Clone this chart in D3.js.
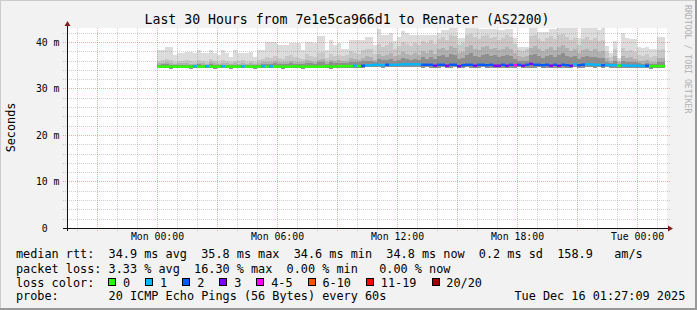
<!DOCTYPE html>
<html>
<head>
<meta charset="utf-8">
<script src="https://cdn.jsdelivr.net/npm/d3@7"></script>
<style>
  body { margin: 0; background: #f2f2f2; }
  svg { display: block; font-family: 'DejaVu Sans Mono', monospace; }
  text { white-space: pre; }
</style>
</head>
<body>
<div id="chart"></div>
<script>

// 12 minute consolidated steps, first one at Mon 00:00
const FIRST_STEP = new Date(2025, 11, 15, 0, 0);
const STEP_MINUTES = 12;

// median rtt per step (ms)
const median = [
  34.7,34.7,34.7,34.7,34.7,34.7,34.7,34.7,34.7,34.8,
  34.7,34.7,34.8,34.7,34.7,34.7,34.8,34.7,34.7,34.7,
  34.7,34.8,34.7,34.7,34.7,34.7,34.8,34.7,34.8,34.7,
  34.7,34.7,34.7,34.7,34.8,34.7,34.7,34.7,34.7,34.7,
  34.7,34.7,34.8,34.7,34.7,34.8,34.8,34.8,34.8,34.9,
  34.8,34.9,35.0,35.0,35.1,35.1,35.0,35.1,35.1,35.1,
  35.1,35.2,35.2,35.2,35.2,35.2,35.1,35.1,35.1,34.9,
  35.1,35.1,34.9,35.1,35.1,34.8,35.0,35.1,35.1,34.9,
  35.1,35.1,35.0,35.1,34.9,34.9,35.1,34.9,35.1,35.0,
  35.1,34.9,35.1,35.3,35.1,35.1,35.0,35.1,34.9,35.1,
  34.9,35.1,35.0,34.9,35.2,35.0,35.1,35.2,35.2,35.1,
  35.1,35.0,35.1,35.0,35.0,34.9,35.0,34.9,34.9,34.9,
  34.9,34.8,34.9,34.8,34.8,34.8,34.8
];

// lost pings out of 20 per step
const loss = [
  0,0,0,0,0,0,0,0,0,1,
  0,0,1,0,0,0,1,0,0,0,
  0,1,0,0,0,0,1,0,1,0,
  0,0,0,0,0,0,0,0,0,0,
  0,0,0,0,0,0,0,0,0,1,
  0,2,1,1,1,1,1,2,1,1,
  1,1,1,1,1,1,2,2,2,3,
  2,2,3,2,2,3,2,2,2,3,
  2,2,2,2,3,3,2,3,2,4,
  2,3,2,3,2,2,2,2,3,2,
  3,2,2,3,1,2,2,1,1,1,
  1,2,1,1,1,0,1,1,1,1,
  1,1,2,0,0,0,0
];

// smoke: fastest ping and a few upper percentiles per step (ms)
const pingMin = [
  34.4,34.4,34.4,34.3,34.4,34.4,34.4,34.4,34.3,34.4,
  34.4,34.4,34.4,34.4,34.3,34.4,34.4,34.4,34.3,34.4,
  34.4,34.4,34.4,34.4,34.3,34.4,34.4,34.4,34.4,34.4,
  34.4,34.3,34.4,34.4,34.4,34.4,34.3,34.4,34.4,34.4,
  34.4,34.4,34.4,34.3,34.4,34.4,34.4,34.5,34.5,34.5,
  34.4,34.5,34.6,34.6,34.6,34.6,34.5,34.6,34.6,34.6,
  34.6,34.6,34.6,34.6,34.6,34.6,34.5,34.6,34.5,34.4,
  34.5,34.6,34.4,34.5,34.6,34.4,34.5,34.6,34.5,34.4,
  34.5,34.6,34.5,34.5,34.4,34.4,34.5,34.4,34.5,34.5,
  34.6,34.4,34.5,34.4,34.5,34.6,34.5,34.5,34.4,34.5,
  34.4,34.5,34.5,34.4,34.6,34.5,34.5,34.6,34.6,34.5,
  34.6,34.5,34.6,34.5,34.5,34.4,34.5,34.4,34.4,34.4,
  34.4,34.4,34.4,34.3,34.4,34.4,34.4
];

const pingP60 = [
  35.1,35.2,35.2,35.1,35.0,35.1,35.1,35.1,35.0,35.0,
  35.2,35.1,35.0,35.2,35.1,35.0,35.1,35.1,35.0,35.1,
  35.0,35.1,35.0,35.1,35.0,35.1,35.2,35.3,35.3,35.4,
  35.3,35.2,35.3,35.5,35.3,35.3,35.2,35.5,35.4,35.3,
  35.6,35.6,35.3,35.6,35.5,35.5,35.4,35.5,35.8,35.7,
  35.6,35.9,36.0,36.0,35.7,36.3,36.1,36.2,36.4,36.0,
  36.2,36.5,36.3,36.2,36.4,36.2,36.7,36.4,36.8,36.3,
  36.9,37.2,36.8,37.5,37.2,36.4,36.6,37.3,37.6,37.0,
  36.8,37.2,37.5,36.9,37.1,36.8,36.9,37.3,37.0,36.4,
  35.9,35.9,36.0,37.1,37.4,36.9,36.6,36.9,37.2,36.8,
  37.3,37.6,37.0,36.7,36.9,36.3,36.8,37.0,36.7,36.8,
  36.5,36.6,35.8,35.5,35.9,35.3,36.0,35.8,35.8,35.6,
  35.4,35.3,35.5,35.2,35.3,35.6,35.7
];

const pingP75 = [
  35.4,35.5,35.6,35.4,35.3,35.4,35.4,35.5,35.3,35.3,
  35.5,35.4,35.3,35.6,35.4,35.3,35.5,35.4,35.2,35.4,
  35.3,35.5,35.3,35.4,35.2,35.5,35.6,35.8,35.7,35.9,
  35.7,35.6,35.8,36.0,35.8,35.7,35.6,36.1,35.9,35.8,
  36.2,36.3,35.8,36.2,36.0,36.1,35.9,36.0,36.5,36.3,
  36.2,36.6,36.9,36.8,36.2,37.4,37.0,37.3,37.6,36.9,
  37.2,37.8,37.4,37.2,37.6,37.3,38.0,37.6,38.2,37.5,
  38.4,38.8,38.2,39.2,38.8,37.6,37.9,39.0,39.4,38.6,
  38.3,38.9,39.2,38.5,38.7,38.2,38.5,39.0,38.6,37.6,
  36.9,36.8,37.0,38.8,39.2,38.4,38.0,38.5,38.9,38.3,
  39.0,39.4,38.7,38.1,38.5,37.6,38.3,38.6,38.1,38.4,
  37.9,38.0,36.6,36.0,36.9,35.6,37.0,36.6,36.7,36.4,
  36.0,35.9,36.1,35.7,35.8,36.5,36.6
];

const pingP90 = [
  36.0,36.2,36.4,36.1,35.8,35.9,36.0,36.2,35.9,35.8,
  36.1,35.9,35.8,36.3,36.0,35.8,36.2,35.9,35.7,36.0,
  35.9,36.1,35.8,36.0,35.7,36.2,36.3,36.8,36.5,37.0,
  36.6,36.4,36.9,37.2,36.7,36.5,36.3,37.4,37.0,36.8,
  37.6,37.8,36.6,37.5,37.0,37.2,36.9,37.1,38.0,37.6,
  37.4,38.2,38.6,38.4,37.5,39.6,39.0,39.4,39.8,38.6,
  39.2,40.0,39.6,39.2,39.8,39.4,40.2,39.8,40.4,39.6,
  40.6,41.0,40.4,41.6,41.2,39.4,39.8,41.4,41.8,41.0,
  40.6,41.2,41.6,40.8,41.0,40.4,40.8,41.4,41.0,39.6,
  38.2,38.0,38.4,41.2,41.6,40.6,40.2,40.8,41.2,40.6,
  41.4,41.8,41.0,40.4,40.8,39.4,40.6,41.0,40.4,40.8,
  40.2,40.4,37.8,36.8,38.4,36.0,38.8,38.0,38.2,37.8,
  37.2,37.0,37.4,36.8,36.9,38.2,38.4
];

const pingMax = [
  38.3,38.3,39.0,39.0,37.2,37.6,37.6,37.9,37.9,37.6,
  38.3,37.6,37.6,38.3,37.7,37.2,38.3,37.6,36.8,38.3,
  37.6,37.6,37.6,37.9,36.8,38.3,38.3,39.9,39.9,39.9,
  39.4,39.4,39.4,39.7,39.7,39.7,38.3,40.1,40.1,39.7,
  41.3,41.3,38.3,40.4,39.4,39.7,38.6,38.6,40.4,40.4,
  40.4,40.4,41.1,41.1,39.4,42.7,41.5,41.5,41.9,40.2,
  41.1,42.3,41.9,41.5,41.5,41.5,41.5,41.5,41.5,41.5,
  42.0,42.5,42.5,43.5,43.5,40.8,40.8,43.5,43.5,43.5,
  42.9,42.9,42.9,42.9,42.9,42.5,42.5,42.9,42.9,40.8,
  39.0,39.0,39.0,43.5,43.5,42.2,42.2,42.2,42.9,42.9,
  43.5,43.5,43.5,43.5,43.5,40.8,43.5,43.5,43.5,43.5,
  42.5,43.5,39.1,37.7,40.2,36.6,42.0,40.8,40.7,40.7,
  39.0,38.8,39.0,38.4,38.4,41.1,41.1
];

// loss legend
const lossLabels = ['0', '1', '2', '3', '4-5', '6-10', '11-19', '20/20'];
const lossColors = ['#26ff00', '#00b8ff', '#0059ff', '#7e00ff', '#ff00ff', '#ff5500', '#ff0000', '#a10000'];
const lossLimits = [0, 1, 2, 3, 5, 10, 19, 20];

const yTicks = [0, 10, 20, 30, 40];
const xTicks = [
  new Date(2025, 11, 15, 0), new Date(2025, 11, 15, 6), new Date(2025, 11, 15, 12),
  new Date(2025, 11, 15, 18), new Date(2025, 11, 16, 0)
];

const titleText = 'Last 30 Hours from 7e1e5ca966d1 to Renater (AS2200)';
const legendRows = [
  'median rtt:  34.9 ms avg  35.8 ms max  34.6 ms min  34.8 ms now  0.2 ms sd  158.9   am/s',
  'packet loss: 3.33 % avg  16.30 % max  0.00 % min   0.00 % now',
  'loss color:',
  'probe:       20 ICMP Echo Pings (56 Bytes) every 60s'
];
const stampText = 'Tue Dec 16 01:27:09 2025';

const W = 697, H = 310;
const plot = { left: 67, right: 667, top: 28, bottom: 228 };

const x = d3.scaleTime()
  .domain([new Date(2025, 11, 14, 19, 30), new Date(2025, 11, 16, 1, 30)])
  .range([plot.left, plot.right]);

const y = d3.scaleLinear()
  .domain([0, 43.01])
  .range([plot.bottom, plot.top]);

const stepStart = (i) => d3.timeMinute.offset(FIRST_STEP, i * STEP_MINUTES);
const crisp = (v) => Math.round(v) + 0.5;

const svg = d3.select('#chart').append('svg')
  .attr('width', W)
  .attr('height', H);

// background and rrdtool style shading
svg.append('rect').attr('width', W).attr('height', H).attr('fill', '#f2f2f2');
svg.append('path').attr('d', `M0.5,${H} V0.5 H${W}`).attr('fill', 'none').attr('stroke', '#cbcbcb');
svg.append('path').attr('d', `M0,${H - 1} H${W - 1} V0`).attr('fill', 'none').attr('stroke', '#999999').attr('stroke-width', 2);

svg.append('rect')
  .attr('x', plot.left).attr('y', plot.top)
  .attr('width', plot.right - plot.left).attr('height', plot.bottom - plot.top)
  .attr('fill', '#ffffff');

svg.append('clipPath').attr('id', 'canvas-clip')
  .append('rect')
    .attr('x', plot.left).attr('y', plot.top)
    .attr('width', plot.right - plot.left).attr('height', plot.bottom - plot.top);

// smoke, lightest (widest) band first
const smoke = [
  { values: pingMax, color: '#dcdcdc' },
  { values: pingP90, color: '#c8c8c8' },
  { values: pingP75, color: '#b0b0b0' },
  { values: pingP60, color: '#8e8e8e' },
];

const smokeGroup = svg.append('g').attr('clip-path', 'url(#canvas-clip)');

for (let layer of smoke) {
  smokeGroup.append('g')
    .selectAll('rect')
    .data(layer.values)
    .join('rect')
      .attr('x', (d, i) => x(stepStart(i)))
      .attr('width', (d, i) => x(stepStart(i + 1)) - x(stepStart(i)))
      .attr('y', d => y(d))
      .attr('height', (d, i) => y(pingMin[i]) - y(d))
      .attr('fill', layer.color)
      .attr('shape-rendering', 'crispEdges');
}

// grid on top of the smoke
const grid = svg.append('g').attr('fill', 'none');
const minorColor = 'rgba(128,128,128,0.38)';
const majorColor = 'rgba(240,90,90,0.5)';

const yMinor = d3.range(2, 43, 2).filter(v => v % 10 !== 0);
grid.selectAll('.hminor')
  .data(yMinor)
  .join('line')
    .attr('x1', plot.left - 4).attr('x2', plot.right + 3)
    .attr('y1', d => crisp(y(d))).attr('y2', d => crisp(y(d)))
    .attr('stroke', minorColor)
    .attr('stroke-dasharray', '1,1');

const hours = d3.timeHour.range(x.domain()[0], x.domain()[1]);
grid.selectAll('.vminor')
  .data(hours.filter(d => d.getHours() % 3 !== 0))
  .join('line')
    .attr('x1', d => crisp(x(d))).attr('x2', d => crisp(x(d)))
    .attr('y1', plot.top).attr('y2', plot.bottom + 3)
    .attr('stroke', minorColor)
    .attr('stroke-dasharray', '1,1');

grid.selectAll('.hmajor')
  .data(yTicks.slice(1))
  .join('line')
    .attr('x1', plot.left - 4).attr('x2', plot.right + 3)
    .attr('y1', d => crisp(y(d))).attr('y2', d => crisp(y(d)))
    .attr('stroke', majorColor)
    .attr('stroke-dasharray', '1,1');

grid.selectAll('.vmajor')
  .data(hours.filter(d => d.getHours() % 3 === 0))
  .join('line')
    .attr('x1', d => crisp(x(d))).attr('x2', d => crisp(x(d)))
    .attr('y1', plot.top).attr('y2', plot.bottom + 3)
    .attr('stroke', majorColor)
    .attr('stroke-dasharray', '1,1');

// median rtt coloured by loss
const lossColor = (n) => lossColors[lossLimits.findIndex(l => n <= l)];

svg.append('g')
  .selectAll('rect')
  .data(median)
  .join('rect')
    .attr('x', (d, i) => x(stepStart(i)))
    .attr('width', (d, i) => x(stepStart(i + 1)) - x(stepStart(i)))
    .attr('y', d => y(d) - 1.2)
    .attr('height', 2.4)
    .attr('fill', (d, i) => lossColor(loss[i]));

// axes
const axisColor = '#111111';
const arrowColor = '#7f1f1f';

svg.append('line')
  .attr('x1', plot.left - 4).attr('x2', plot.right + 1)
  .attr('y1', plot.bottom + 0.5).attr('y2', plot.bottom + 0.5)
  .attr('stroke', axisColor);
svg.append('line')
  .attr('x1', plot.left + 0.5).attr('x2', plot.left + 0.5)
  .attr('y1', plot.bottom + 3).attr('y2', plot.top - 2)
  .attr('stroke', axisColor);
svg.append('path')
  .attr('d', `M${plot.right + 1},${plot.bottom - 2.5} L${plot.right + 6},${plot.bottom + 0.5} L${plot.right + 1},${plot.bottom + 3.5} Z`)
  .attr('fill', arrowColor);
svg.append('path')
  .attr('d', `M${plot.left - 2.5},${plot.top - 2} L${plot.left + 0.5},${plot.top - 7} L${plot.left + 3.5},${plot.top - 2} Z`)
  .attr('fill', arrowColor);

const yAxis = d3.axisLeft(y)
  .tickValues(yTicks)
  .tickSize(0)
  .tickPadding(7.5)
  .tickFormat(d => d === 0 ? '0  ' : d + ' m');

const yAxisG = svg.append('g')
  .attr('transform', `translate(${plot.left},0)`)
  .call(yAxis);
yAxisG.select('.domain').remove();
yAxisG.selectAll('text')
  .attr('font-family', "'DejaVu Sans Mono', monospace")
  .attr('font-size', '9.8px')
  .attr('fill', '#000');

const xAxis = d3.axisBottom(x)
  .tickValues(xTicks)
  .tickSize(0)
  .tickPadding(5.3)
  .tickFormat(d3.timeFormat('%a %H:%M'));

const xAxisG = svg.append('g')
  .attr('transform', `translate(0,${plot.bottom})`)
  .call(xAxis);
xAxisG.select('.domain').remove();
xAxisG.selectAll('text')
  .attr('font-family', "'DejaVu Sans Mono', monospace")
  .attr('font-size', '9.8px')
  .attr('fill', '#000');

// titles
svg.append('text')
  .attr('x', 347).attr('y', 24)
  .attr('text-anchor', 'middle')
  .attr('font-size', '13.2px')
  .text(titleText);

svg.append('text')
  .attr('transform', 'translate(14.5,127.5) rotate(-90)')
  .attr('text-anchor', 'middle')
  .attr('font-size', '11.8px')
  .text('Seconds');

svg.append('text')
  .attr('transform', 'translate(684.5,5) rotate(90)')
  .attr('font-size', '8.2px')
  .attr('fill', '#b0b0b0')
  .text('RRDTOOL / TOBI OETIKER');

// legend
const legendSize = 11.83;
const charW = legendSize * 0.6021;
const rowBase = [258.3, 272.5, 286.5, 300.3];

svg.append('g')
  .selectAll('text')
  .data(legendRows)
  .join('text')
    .attr('x', 16)
    .attr('y', (d, i) => rowBase[i])
    .attr('font-size', legendSize + 'px')
    .text(d => d);

svg.append('text')
  .attr('x', 514.4).attr('y', rowBase[3])
  .attr('font-size', legendSize + 'px')
  .text(stampText);

let bx = 108.3;
const lossLegend = svg.append('g');
lossLabels.forEach((label, i) => {
  const left = Math.round(bx);
  lossLegend.append('rect')
    .attr('x', left + 0.5).attr('y', 278.5)
    .attr('width', 7).attr('height', 7)
    .attr('fill', lossColors[i])
    .attr('stroke', '#000');
  lossLegend.append('text')
    .attr('x', bx + 14.8).attr('y', rowBase[2])
    .attr('font-size', legendSize + 'px')
    .text(label);
  bx += 14.8 + label.length * charW + 15.1;
});

</script>
</body>
</html>
